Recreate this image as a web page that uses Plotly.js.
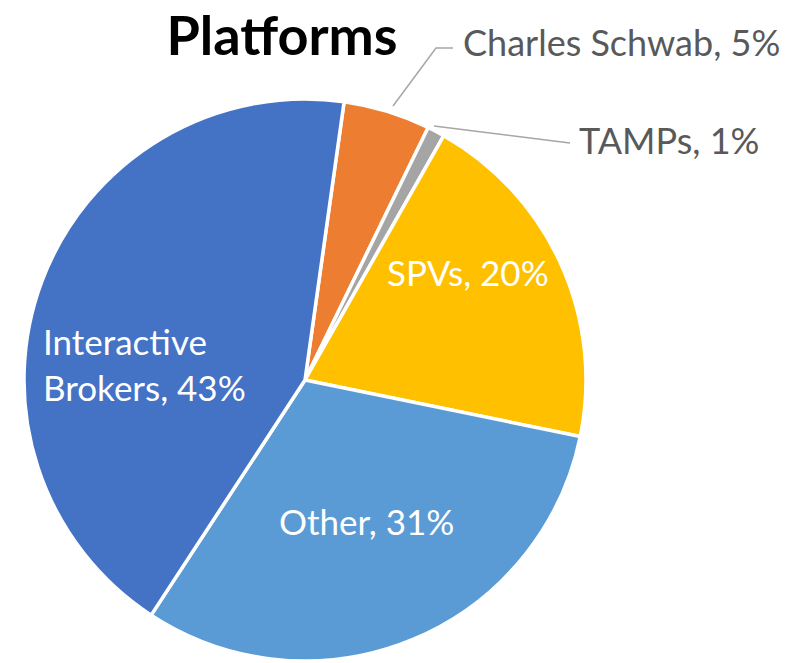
<!DOCTYPE html>
<html>
<head>
<meta charset="utf-8">
<script src="https://cdn.plot.ly/plotly-3.0.1.min.js"></script>
<style>html,body{margin:0;padding:0;background:#fff;}#chart{width:789px;height:663px;}</style>
</head>
<body>
<div id="chart"></div>
<script>
const labels = ["Charles Schwab", "TAMPs", "SPVs", "Other", "Interactive Brokers"];
const values = [5, 1, 20, 31, 43];
const colors = ["#ED7D31", "#A5A5A5", "#FFC000", "#5B9BD5", "#4472C4"];
const labelText = ["Charles Schwab, 5%", "TAMPs, 1%", "SPVs, 20%", "Other, 31%", "Interactive<br>Brokers, 43%"];

const W = 789, H = 663;
const cx = 305, cy = 380, r = 281;
const px = x => x / W;
const py = y => 1 - y / H;

const trace = {
  type: "pie",
  labels: labels,
  values: values,
  sort: false,
  direction: "clockwise",
  rotation: 8,
  textinfo: "none",
  hoverinfo: "label+percent",
  marker: {colors: colors, line: {color: "#ffffff", width: 3.5}},
  domain: {x: [px(cx - r), px(cx + r)], y: [py(cy + r), py(cy - r)]},
  showlegend: false
};

const font = "Lato, 'Open Sans', sans-serif";
const annotations = [
  {x: px(461), y: py(42), text: labelText[0], xanchor: "left", yanchor: "middle", font: {color: "#595959", size: 36}},
  {x: px(577), y: py(140), text: labelText[1], xanchor: "left", yanchor: "middle", font: {color: "#595959", size: 36}},
  {x: px(468), y: py(272), text: labelText[2], xanchor: "center", yanchor: "middle", font: {color: "#ffffff", size: 35}},
  {x: px(366), y: py(521), text: labelText[3], xanchor: "center", yanchor: "middle", font: {color: "#ffffff", size: 35}},
  {x: px(41), y: py(364), text: labelText[4], xanchor: "left", yanchor: "middle", align: "left", font: {color: "#ffffff", size: 35}}
].map(a => Object.assign({xref: "paper", yref: "paper", showarrow: false}, a, {font: Object.assign({family: font}, a.font)}));

const shapes = [
  {type: "path", path: `M ${px(393)} ${py(106)} L ${px(436)} ${py(48)} L ${px(453)} ${py(48)}`},
  {type: "path", path: `M ${px(434)} ${py(126)} L ${px(570)} ${py(143)}`}
].map(s => Object.assign({xref: "paper", yref: "paper", line: {color: "#A6A6A6", width: 1.5}}, s));

const layout = {
  width: W, height: H,
  margin: {l: 0, r: 0, t: 0, b: 0},
  paper_bgcolor: "#ffffff",
  title: {text: "<b>Platforms</b>", x: px(282), xanchor: "center", y: py(36), yanchor: "middle", font: {family: font, size: 54, color: "#000000"}},
  annotations: annotations,
  shapes: shapes
};

Plotly.newPlot("chart", [trace], layout, {displayModeBar: false});
</script>
</body>
</html>
